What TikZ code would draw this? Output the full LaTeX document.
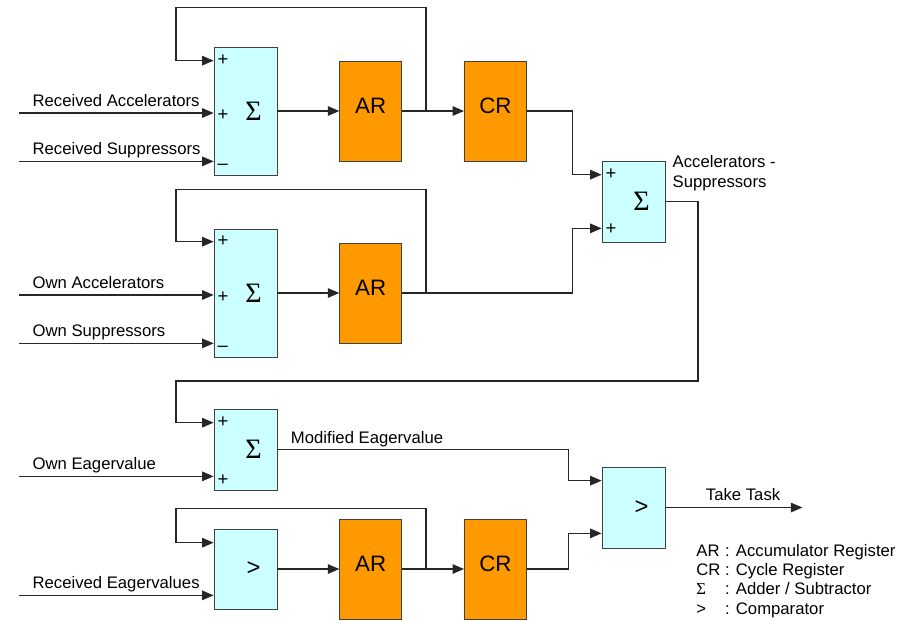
\documentclass[tikz,border=0pt]{standalone}
\usepackage{fontspec}
\setmainfont{Liberation Sans}
\newfontfamily\greekfont{Liberation Serif}
\usetikzlibrary{positioning,calc,arrows.meta}

\definecolor{adderfill}{HTML}{CCFFFF}
\definecolor{regfill}{HTML}{FF9900}
\newcommand{\sumsym}{\hspace*{0.32cm}{\greekfont\fontsize{16}{18}\selectfont Σ}}
\newcommand{\cmpsym}{\hspace*{0.32cm}>}

\begin{document}
\begin{tikzpicture}[
    node distance=1.24cm,
    unit/.style={rectangle, draw=black!75, fill=adderfill, minimum width=1.26cm, minimum height=1.62cm, inner sep=0pt, font=\fontsize{13.5}{15}\selectfont},
    tall/.style={unit, minimum height=2.56cm},
    register/.style={rectangle, draw=black!75, fill=regfill, minimum width=1.24cm, minimum height=2cm, inner sep=0pt, text depth=0.22cm, font=\fontsize{12.7}{15}\selectfont},
    lbl/.style={inner sep=0pt, font=\fontsize{9.5}{11.3}\selectfont},
    sign/.style={inner sep=0pt, font=\fontsize{10.5}{12}\selectfont},
    arrow/.style={draw=black!85, line width=0.7pt, -{Triangle[length=2.3mm,width=1.9mm]}}
]
    \useasboundingbox (0,0) rectangle (18.08,-12.4);

    % Received accelerators / suppressors
    \node [tall] (sum1) at (4.91,-2.22) {\sumsym};
    \node [register, right=of sum1] (ar1) {AR};
    \node [register, right=of ar1] (cr1) {CR};

    % Own accelerators / suppressors
    \node [tall] (sum2) at (4.91,-5.86) {\sumsym};
    \node [register, right=of sum2] (ar2) {AR};

    % Accelerators - suppressors
    \node [unit] (sum3) at (12.67,-4.03) {\sumsym};

    % Eagervalues
    \node [unit] (sum4) at (4.91,-8.99) {\sumsym};
    \node [unit, minimum height=1.6cm] (cmp1) at (4.91,-11.38) {\cmpsym};
    \node [register, right=of cmp1] (ar3) {AR};
    \node [register, right=of ar3] (cr2) {CR};
    \node [unit] (cmp2) at (12.67,-10.15) {\cmpsym};

    % Entry points
    \coordinate (edge) at (0.38,0);
    \coordinate (loopx) at (3.52,0);
    \coordinate (s1a) at ($(sum1.north west)+(0,-0.28)$);
    \coordinate (s1b) at ($(sum1.west)+(0,-0.04)$);
    \coordinate (s1c) at ($(sum1.south west)+(0,0.28)$);
    \coordinate (s2a) at ($(sum2.north west)+(0,-0.26)$);
    \coordinate (s2b) at ($(sum2.west)+(0,-0.04)$);
    \coordinate (s2c) at ($(sum2.south west)+(0,0.28)$);
    \coordinate (s3a) at ($(sum3.north west)+(0,-0.28)$);
    \coordinate (s3b) at ($(sum3.south west)+(0,0.28)$);
    \coordinate (s4a) at ($(sum4.north west)+(0,-0.28)$);
    \coordinate (s4b) at ($(sum4.south west)+(0,0.28)$);
    \coordinate (c1a) at ($(cmp1.north west)+(0,-0.28)$);
    \coordinate (c1b) at ($(cmp1.south west)+(0,0.28)$);
    \coordinate (c2a) at ($(cmp2.north west)+(0,-0.28)$);
    \coordinate (c2b) at ($(cmp2.south west)+(0,0.30)$);
    \coordinate (tap1) at ($(ar1.east)+(0.48,0)$);
    \coordinate (tap2) at ($(ar2.east)+(0.48,0)$);
    \coordinate (tap3) at ($(ar3.east)+(0.48,0)$);
    \coordinate (ret) at (13.96,-7.62);
    \coordinate (out) at ($(cmp2.east)+(2.74,0)$);

    % Signs
    \node [sign, anchor=west] (p1a) at ($(s1a)+(0.07,0)$) {+};
    \node [sign, anchor=west] (p1b) at ($(s1b)+(0.07,-0.05)$) {+};
    \node [sign, anchor=west] (m1c) at ($(s1c)+(0.07,-0.1)$) {\textendash};
    \node [sign, anchor=west] (p2a) at ($(s2a)+(0.07,0)$) {+};
    \node [sign, anchor=west] (p2b) at ($(s2b)+(0.07,-0.05)$) {+};
    \node [sign, anchor=west] (m2c) at ($(s2c)+(0.07,-0.1)$) {\textendash};
    \node [sign, anchor=west] (p3a) at ($(s3a)+(0.07,0)$) {+};
    \node [sign, anchor=west] (p3b) at ($(s3b)+(0.07,-0.02)$) {+};
    \node [sign, anchor=west] (p4a) at ($(s4a)+(0.07,0)$) {+};
    \node [sign, anchor=west] (p4b) at ($(s4b)+(0.07,-0.07)$) {+};

    % Inputs
    \draw [arrow] (edge |- s1b) -- node [lbl, pos=0, anchor=base west, xshift=0.26cm, yshift=0.14cm] (lra) {Received Accelerators} (s1b);
    \draw [arrow] (edge |- s1c) -- node [lbl, pos=0, anchor=base west, xshift=0.26cm, yshift=0.14cm] (lrs) {Received Suppressors} (s1c);
    \draw [arrow] (edge |- s2b) -- node [lbl, pos=0, anchor=base west, xshift=0.26cm, yshift=0.14cm] (loa) {Own Accelerators} (s2b);
    \draw [arrow] (edge |- s2c) -- node [lbl, pos=0, anchor=base west, xshift=0.26cm, yshift=0.14cm] (los) {Own Suppressors} (s2c);
    \draw [arrow] (edge |- s4b) -- node [lbl, pos=0, anchor=base west, xshift=0.26cm, yshift=0.14cm] (loe) {Own Eagervalue} (s4b);
    \draw [arrow] (edge |- c1b) -- node [lbl, pos=0, anchor=base west, xshift=0.26cm, yshift=0.14cm] (lre) {Received Eagervalues} (c1b);

    % Registers
    \draw [arrow] (sum1) -- (ar1);
    \draw [arrow] (ar1) -- (cr1);
    \draw [arrow] (sum2) -- (ar2);
    \draw [arrow] (cmp1) -- (ar3);
    \draw [arrow] (ar3) -- (cr2);

    % Feedback loops
    \draw [arrow] (tap1) |- ($(loopx |- sum1.north)+(0,0.78)$) |- (s1a);
    \draw [arrow] (tap2) |- ($(loopx |- sum2.north)+(0,0.78)$) |- (s2a);
    \draw [arrow] (tap3) |- ($(loopx |- cmp1.north)+(0,0.40)$) |- (c1a);

    % Combining
    \draw [arrow] (cr1.east) -| ($(s3a)+(-0.58,0)$) -- (s3a);
    \draw [arrow] (ar2.east) -| ($(s3b)+(-0.58,0)$) -- (s3b);
    \node [lbl, anchor=base west] (lsum3) at ($(sum3.north east)+(0.14,-0.14)$) {\begin{tabular}[t]{@{}l@{}}Accelerators -\\Suppressors\end{tabular}};
    \draw [arrow] (sum3.east) -| (ret) -| (loopx |- s4a) -- (s4a);
    \draw [arrow] (sum4.east) -| node [lbl, pos=0, anchor=base west, xshift=0.26cm, yshift=0.12cm] (lme) {Modified Eagervalue} ($(c2a)+(-0.66,0)$) -- (c2a);
    \draw [arrow] (cr2.east) -| ($(c2b)+(-0.66,0)$) -- (c2b);
    \draw [arrow] (cmp2) -- node [lbl, pos=0, anchor=base west, xshift=0.8cm, yshift=0.14cm] (ltake) {Take Task} (out);

    % Legend
    \node [lbl, font=\fontsize{9.5}{11}\selectfont, anchor=base west] (legend) at (13.92,-11.12) {\begin{tabular}[t]{@{}l@{ }l@{}}AR & : Accumulator Register\\CR & : Cycle Register\\{\greekfont Σ} & : Adder / Subtractor\\> & : Comparator\end{tabular}};
\end{tikzpicture}
\end{document}
